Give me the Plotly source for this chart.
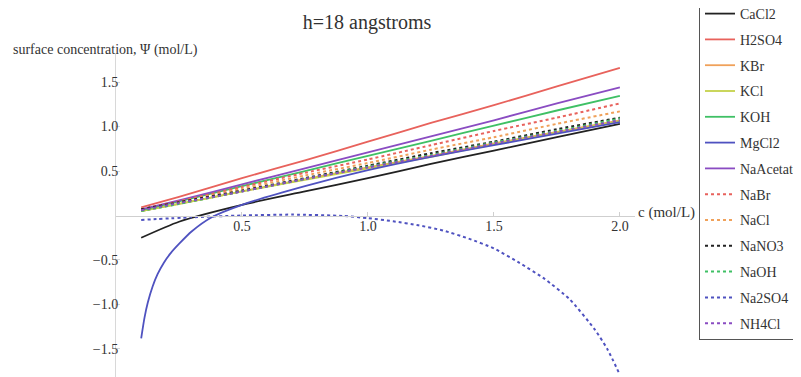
import plotly.graph_objects as go

# ---- data ----
c_grid = [0.1, 0.25, 0.5, 0.75, 1.0, 1.25, 1.5, 1.75, 2.0]

CaCl2 = [-0.25, -0.07, 0.12, 0.27, 0.42, 0.58, 0.73, 0.88, 1.03]
H2SO4 = [0.09, 0.21, 0.42, 0.62, 0.83, 1.04, 1.24, 1.45, 1.66]
KBr = [0.05, 0.13, 0.27, 0.41, 0.54, 0.67, 0.81, 0.94, 1.07]
KCl = [0.05, 0.13, 0.27, 0.40, 0.53, 0.66, 0.80, 0.93, 1.06]
KOH = [0.06, 0.16, 0.33, 0.50, 0.67, 0.84, 1.01, 1.18, 1.345]
NaAcetate = [0.07, 0.17, 0.35, 0.53, 0.71, 0.89, 1.07, 1.26, 1.44]
NaBr = [0.07, 0.16, 0.32, 0.48, 0.63, 0.79, 0.95, 1.10, 1.26]
NaCl = [0.06, 0.15, 0.30, 0.45, 0.59, 0.74, 0.88, 1.03, 1.17]
NaNO3 = [0.07, 0.15, 0.28, 0.42, 0.56, 0.70, 0.83, 0.97, 1.10]
NaOH = [0.05, 0.13, 0.27, 0.41, 0.55, 0.68, 0.82, 0.95, 1.09]
NH4Cl = [0.06, 0.14, 0.27, 0.41, 0.54, 0.67, 0.81, 0.94, 1.07]

c_MgCl2 = [0.1, 0.113, 0.126, 0.145, 0.165, 0.19, 0.218, 0.25, 0.3, 0.38, 0.5,
           0.75, 1.0, 1.25, 1.5, 1.75, 2.0]
MgCl2 = [-1.38, -1.15, -0.98, -0.80, -0.66, -0.53, -0.42, -0.32, -0.18, -0.02, 0.12,
         0.33, 0.51, 0.66, 0.79, 0.92, 1.05]

c_Na2SO4 = [0.1, 0.3, 0.5, 0.7, 0.9, 1.0, 1.1, 1.2, 1.3, 1.4, 1.5, 1.6, 1.7, 1.8,
            1.9, 1.95, 2.0]
Na2SO4 = [-0.05, -0.02, 0.00, 0.01, -0.005, -0.03, -0.065, -0.11, -0.17, -0.26, -0.37,
          -0.53, -0.71, -0.94, -1.28, -1.50, -1.79]

x_ticks = [0.5, 1.0, 1.5, 2.0]
x_ticktext = ["0.5", "1.0", "1.5", "2.0"]
y_ticks = [-1.5, -1.0, -0.5, 0.5, 1.0, 1.5]
y_ticktext = ["\u22121.5", "\u22121.0", "\u22120.5", "0.5", "1.0", "1.5"]

# ---- styles ----
BLACK = "#222222"
RED = "#e8625c"
ORANGE = "#f0a15a"
YGREEN = "#c5d24a"
GREEN = "#3fc065"
BLUE = "#4f52c0"
PURPLE = "#8a4cc2"

series = [
    ("CaCl2", c_grid, CaCl2, BLACK, "solid"),
    ("H2SO4", c_grid, H2SO4, RED, "solid"),
    ("KBr", c_grid, KBr, ORANGE, "solid"),
    ("KCl", c_grid, KCl, YGREEN, "solid"),
    ("KOH", c_grid, KOH, GREEN, "solid"),
    ("MgCl2", c_MgCl2, MgCl2, BLUE, "solid"),
    ("NaAcetate", c_grid, NaAcetate, PURPLE, "solid"),
    ("NaBr", c_grid, NaBr, RED, "dash"),
    ("NaCl", c_grid, NaCl, ORANGE, "dash"),
    ("NaNO3", c_grid, NaNO3, BLACK, "dash"),
    ("NaOH", c_grid, NaOH, GREEN, "dash"),
    ("Na2SO4", c_Na2SO4, Na2SO4, BLUE, "dash"),
    ("NH4Cl", c_grid, NH4Cl, PURPLE, "dash"),
]

FONT = "Liberation Serif"
TXT = "#333333"

fig = go.Figure()
for i, (name, xs, ys, col, style) in enumerate(series):
    fig.add_trace(go.Scatter(
        x=xs, y=ys, name=name, mode="lines",
        legendgroup=f"g{i}",
        line=dict(color=col, width=1.8 if style == "solid" else 2.0,
                  dash="solid" if style == "solid" else "3px,3px",
                  shape="spline", smoothing=0.6),
    ))

# page body has an 8px margin: figure pixel = reference pixel - 8
OFF = 8
W, H = 801 - OFF, 377 - OFF
L, T, B = 116 - OFF, 54 - OFF, 0
R = W - (635 - OFF)
PW = W - L - R
PH = H - T - B
y_lo, y_hi = -1.815, 1.815
x_lo, x_hi = 0.0, 2.06


def px_x(p):
    return (p - OFF - L) / PW


def px_y(p):
    return (H - B - (p - OFF)) / PH


zero_frac = (0 - y_lo) / (y_hi - y_lo)

fig.update_layout(
    width=W, height=H,
    margin=dict(l=L, r=R, t=T, b=B, autoexpand=False),
    paper_bgcolor="white", plot_bgcolor="white",
    font=dict(family=FONT, size=14, color=TXT),
    title=dict(text="h=18 angstroms", x=px_x(367), xref="paper", xanchor="center",
               y=1 - (22 - OFF) / H, yref="container", yanchor="middle",
               font=dict(family=FONT, size=20, color=TXT)),
    xaxis=dict(range=[x_lo, x_hi], anchor="free", position=zero_frac,
               showgrid=False, zeroline=False, showline=True, linecolor="#cfcfcf",
               linewidth=1, ticks="inside", ticklen=4, tickcolor="#cfcfcf",
               tickvals=x_ticks, ticktext=x_ticktext, ticklabelstandoff=-2,
               tickfont=dict(family=FONT, size=14, color=TXT)),
    yaxis=dict(range=[y_lo, y_hi], showgrid=False, zeroline=False, showline=True,
               linecolor="#d8d8d8", linewidth=1, ticks="inside", ticklen=4,
               tickcolor="#d8d8d8", tickvals=y_ticks, ticktext=y_ticktext,
               ticklabelstandoff=-6,
               tickfont=dict(family=FONT, size=14, color=TXT)),
    legend=dict(x=px_x(699), y=px_y(-3), xanchor="left", yanchor="top",
                bordercolor="#555555", borderwidth=1, bgcolor="white",
                traceorder="grouped", tracegroupgap=4.6, maxheight=420,
                font=dict(family=FONT, size=14, color=TXT)),
    showlegend=True,
)

fig.add_annotation(text="surface concentration, \u03a8 (mol/L)", xref="paper", yref="paper",
                   x=px_x(11), y=px_y(50), xanchor="left", yanchor="middle",
                   showarrow=False, font=dict(family=FONT, size=14, color=TXT))
fig.add_annotation(text="c (mol/L)", xref="paper", yref="paper",
                   x=px_x(636), y=px_y(212), xanchor="left", yanchor="middle",
                   showarrow=False, font=dict(family=FONT, size=15, color=TXT))

fig.write_html("out.html")
